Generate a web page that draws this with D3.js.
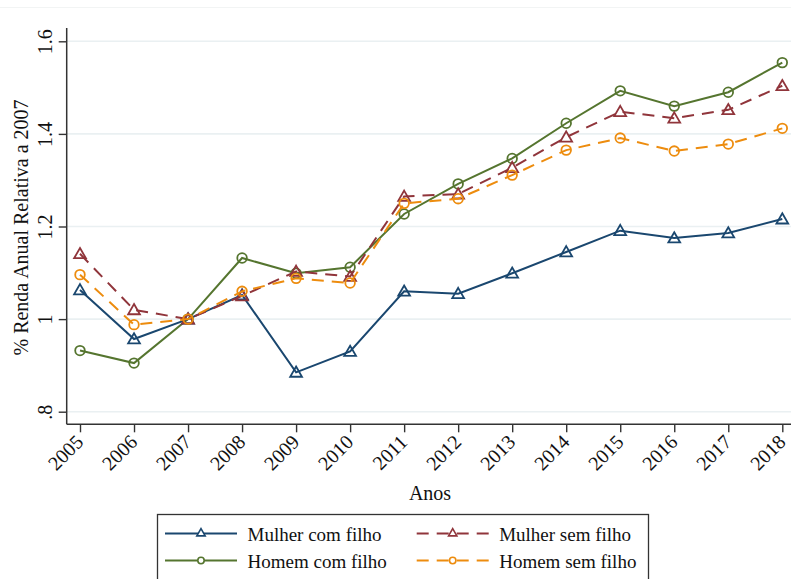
<!DOCTYPE html>
<html>
<head>
<meta charset="utf-8">
<script src="https://cdn.jsdelivr.net/npm/d3@7"></script>
<style>
  html, body { margin: 0; padding: 0; background: #fff; }
  svg { display: block; font-family: "Liberation Serif", "Times New Roman", serif; }
</style>
</head>
<body>
<svg id="chart" width="791" height="579"></svg>
<script>
const years = [2005, 2006, 2007, 2008, 2009, 2010, 2011, 2012, 2013, 2014, 2015, 2016, 2017, 2018];
const mulherComFilho = [1.063, 0.957, 1.0, 1.052, 0.885, 0.930, 1.060, 1.055, 1.099, 1.145, 1.191, 1.175, 1.186, 1.216];
const mulherSemFilho = [1.141, 1.020, 1.0, 1.050, 1.103, 1.092, 1.265, 1.270, 1.327, 1.393, 1.448, 1.434, 1.452, 1.504];
const homemComFilho  = [0.932, 0.905, 1.0, 1.132, 1.099, 1.112, 1.227, 1.292, 1.347, 1.423, 1.493, 1.460, 1.490, 1.554];
const homemSemFilho  = [1.096, 0.988, 1.0, 1.060, 1.088, 1.078, 1.250, 1.260, 1.311, 1.365, 1.391, 1.363, 1.378, 1.412];
const yTicks = [0.8, 1.0, 1.2, 1.4, 1.6];
const yTickLabels = [".8", "1", "1.2", "1.4", "1.6"];
const yTitle = "% Renda Anual Relativa a 2007";
const xTitle = "Anos";

const series = [
  { name: "Mulher com filho", values: mulherComFilho, color: "#1a476f", dash: null, marker: "triangle" },
  { name: "Mulher sem filho", values: mulherSemFilho, color: "#90353b", dash: "12,8", marker: "triangle" },
  { name: "Homem com filho", values: homemComFilho, color: "#55752f", dash: null, marker: "circle" },
  { name: "Homem sem filho", values: homemSemFilho, color: "#ed8c0e", dash: "12,8", marker: "circle" }
];
const drawOrder = [2, 0, 1, 3];

const svg = d3.select("#chart");
const axisX0 = 66.7, axisYBottom = 424.3, axisYTop = 28;

const x = d3.scaleLinear().domain([2005, 2018]).range([80, 782.3]);
const y = d3.scaleLinear().domain([0.8, 1.6]).range([411.7, 41.3]);

// faint top border
svg.append("line").attr("x1", 0).attr("x2", 791).attr("y1", 7.5).attr("y2", 7.5)
  .attr("stroke", "#f2f4f4").attr("stroke-width", 1);

// gridlines
svg.append("g").selectAll("line").data(yTicks).join("line")
  .attr("x1", axisX0).attr("x2", 791)
  .attr("y1", d => y(d)).attr("y2", d => y(d))
  .attr("stroke", "#eaf0f2").attr("stroke-width", 1.6);

// Y axis
const yAxis = d3.axisLeft(y).tickValues(yTicks).tickSize(8).tickPadding(6)
  .tickFormat((d, i) => yTickLabels[i]);
const gy = svg.append("g").attr("transform", `translate(${axisX0},0)`).call(yAxis);
gy.select(".domain").remove();
gy.selectAll(".tick line").attr("stroke", "#333").attr("stroke-width", 1.4);
gy.selectAll(".tick text")
  .attr("font-family", "Liberation Serif, serif")
  .attr("font-size", 20).attr("fill", "#111")
  .attr("text-anchor", "middle")
  .attr("x", 0).attr("y", 0).attr("dy", 0)
  .attr("transform", "translate(-15,0) rotate(-90)");
svg.append("line").attr("x1", axisX0).attr("x2", axisX0).attr("y1", axisYTop).attr("y2", axisYBottom)
  .attr("stroke", "#333").attr("stroke-width", 1.5);

// X axis
const xAxis = d3.axisBottom(x).tickValues(years).tickSize(8).tickFormat(d3.format("d"));
const gx = svg.append("g").attr("transform", `translate(0,${axisYBottom})`).call(xAxis);
gx.select(".domain").remove();
gx.selectAll(".tick line").attr("stroke", "#333").attr("stroke-width", 1.4);
gx.selectAll(".tick text")
  .attr("font-family", "Liberation Serif, serif")
  .attr("font-size", 20).attr("fill", "#111")
  .attr("text-anchor", "end")
  .attr("y", 0).attr("dy", 0)
  .attr("transform", "translate(4,19) rotate(-45)");
svg.append("line").attr("x1", axisX0).attr("x2", 791).attr("y1", axisYBottom).attr("y2", axisYBottom)
  .attr("stroke", "#333").attr("stroke-width", 1.5);

// titles
svg.append("text").attr("x", 430).attr("y", 500).attr("text-anchor", "middle")
  .attr("font-size", 20).attr("fill", "#111").text(xTitle);
svg.append("text").attr("transform", `translate(28,227.5) rotate(-90)`)
  .attr("text-anchor", "middle").attr("font-size", 20).attr("fill", "#111").text(yTitle);

// lines & markers
const line = d3.line().x((d, i) => x(years[i])).y(d => y(d));
const triSym = d3.symbol().type(d3.symbolTriangle).size(60);

function drawMarker(g, type, cx, cy, color) {
  if (type === "triangle") {
    g.append("path").attr("d", triSym()).attr("transform", `translate(${cx},${cy + 1})`)
      .attr("fill", "none").attr("stroke", color).attr("stroke-width", 1.8);
  } else {
    g.append("circle").attr("cx", cx).attr("cy", cy).attr("r", 4.8)
      .attr("fill", "none").attr("stroke", color).attr("stroke-width", 1.8);
  }
}

drawOrder.forEach(k => {
  const s = series[k];
  const g = svg.append("g");
  g.append("path").datum(s.values).attr("d", line)
    .attr("fill", "none").attr("stroke", s.color).attr("stroke-width", 2)
    .attr("stroke-dasharray", s.dash);
  s.values.forEach((v, i) => drawMarker(g, s.marker, x(years[i]), y(v), s.color));
});

// legend
const lg = svg.append("g");
lg.append("rect").attr("x", 157.5).attr("y", 514.5).attr("width", 491).attr("height", 80)
  .attr("fill", "#fff").attr("stroke", "#333").attr("stroke-width", 1.3);
const legendPos = [
  { lx: 165, ly: 533.5 }, { lx: 416.7, ly: 533.5 },
  { lx: 165, ly: 560.5 }, { lx: 416.7, ly: 560.5 }
];
series.forEach((s, k) => {
  const p = legendPos[k];
  lg.append("line").attr("x1", p.lx).attr("x2", p.lx + 72).attr("y1", p.ly).attr("y2", p.ly)
    .attr("stroke", s.color).attr("stroke-width", 2).attr("stroke-dasharray", s.dash);
  const m = lg.append("g");
  if (s.marker === "triangle") {
    m.append("path").attr("d", d3.symbol().type(d3.symbolTriangle).size(30)())
      .attr("transform", `translate(${p.lx + 36},${p.ly})`)
      .attr("fill", "#fff").attr("stroke", s.color).attr("stroke-width", 1.6);
  } else {
    m.append("circle").attr("cx", p.lx + 36).attr("cy", p.ly).attr("r", 3.2)
      .attr("fill", "#fff").attr("stroke", s.color).attr("stroke-width", 1.6);
  }
  lg.append("text").attr("x", p.lx + 82.5).attr("y", p.ly + 7)
    .attr("font-size", 19).attr("fill", "#111").text(s.name);
});
</script>
</body>
</html>
